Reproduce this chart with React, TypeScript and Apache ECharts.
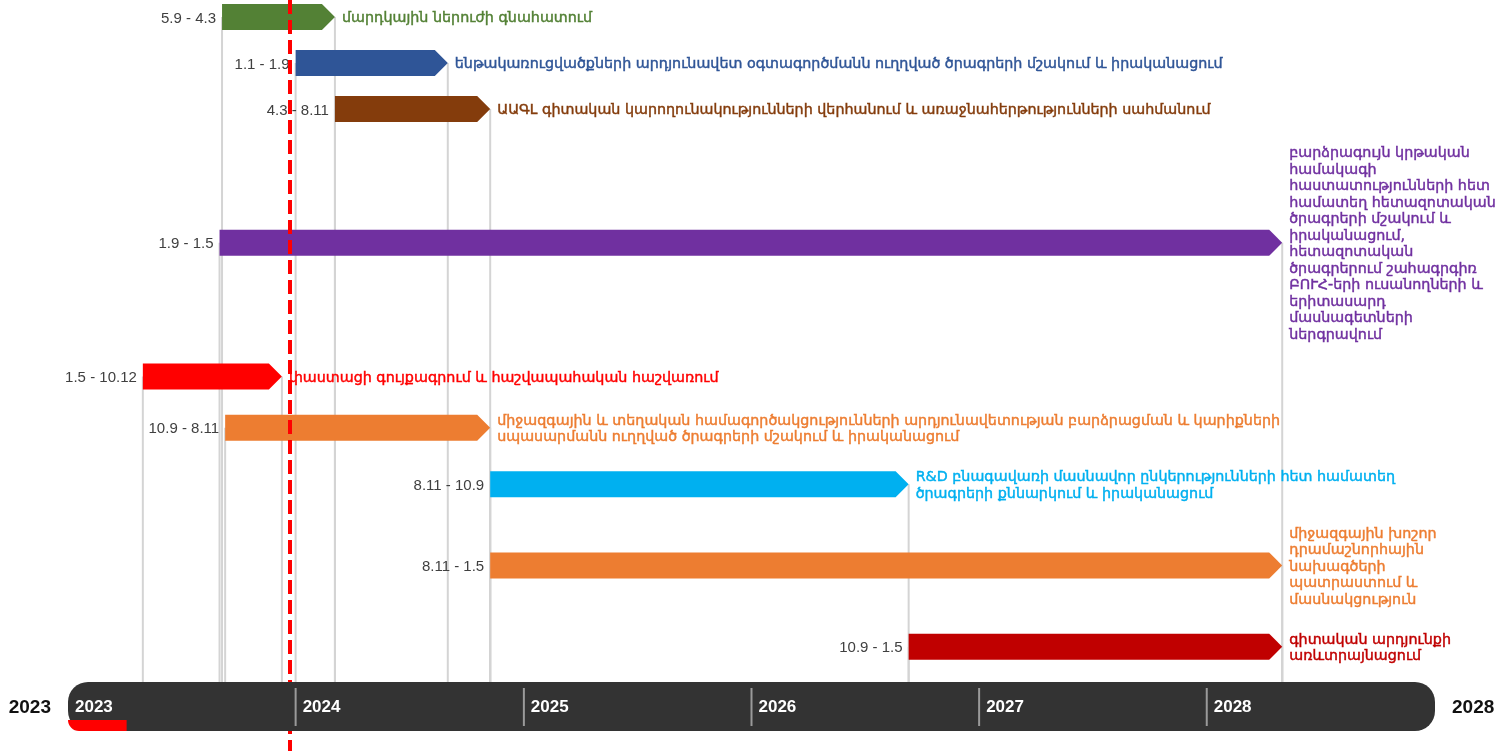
import React, { useEffect, useRef } from "react";
import * as echarts from "echarts";

const taskNames = [
  "մարդկային ներուժի գնահատում",
  "ենթակառուցվածքների արդյունավետ օգտագործմանն ուղղված ծրագրերի մշակում և իրականացում",
  "ԱԱԳԼ գիտական կարողունակությունների վերհանում և առաջնահերթությունների սահմանում",
  "բարձրագույն կրթական\nհամակագի\nհաստատությունների հետ\nհամատեղ հետազոտական\nծրագրերի մշակում և\nիրականացում,\nհետազոտական\nծրագրերում շահագրգիռ\nԲՈՒՀ-երի ուսանողների և\nերիտասարդ\nմասնագետների\nներգրավում",
  "փաստացի գույքագրում և հաշվապահական հաշվառում",
  "միջազգային և տեղական համագործակցությունների արդյունավետության բարձրացման և կարիքների\nսպասարմանն ուղղված ծրագրերի մշակում և իրականացում",
  "R&D բնագավառի մասնավոր ընկերությունների հետ համատեղ\nծրագրերի քննարկում և իրականացում",
  "միջազգային խոշոր\nդրամաշնորհային\nնախագծերի\nպատրաստում և\nմասնակցություն",
  "գիտական արդյունքի\nառևտրայնացում",
];
const taskStarts = ["2023-09-05", "2024-01-01", "2024-03-04", "2023-09-01", "2023-05-01", "2023-09-10", "2024-11-08", "2024-11-08", "2026-09-10"];
const taskEnds = ["2024-03-04", "2024-09-01", "2024-11-08", "2028-05-01", "2023-12-10", "2024-11-08", "2026-09-10", "2028-05-01", "2028-05-01"];
const rangeLabels = ["5.9 - 4.3", "1.1 - 1.9", "4.3 - 8.11", "1.9 - 1.5", "1.5 - 10.12", "10.9 - 8.11", "8.11 - 10.9", "8.11 - 1.5", "10.9 - 1.5"];
const taskColors = ["#538135", "#2F5597", "#843C0C", "#7030A0", "#FF0000", "#ED7D31", "#00B0F0", "#ED7D31", "#C00000"];
const yearTicks = ["2023", "2024", "2025", "2026", "2027", "2028"];
const timelineStart = "2023-01-01";
const timelineEnd = "2029-01-01";
const todayDate = "2023-12-23";
const progressEnd = "2023-04-05";

const ts = (d: string) => new Date(d + "T00:00:00").getTime();

// layout
const BAR_H = 26;
const LINE_H = 16.5;
const ROW_MIN_HALF = 23;
const ROW_PAD = 23.5;
const FIRST_CENTER = 17;
const TL_TOP = 682;
const TL_BOTTOM = 731;

function rowCenters(): number[] {
  const halves = taskNames.map((n) => Math.max(ROW_MIN_HALF, (n.split("\n").length * LINE_H + ROW_PAD) / 2));
  const out: number[] = [];
  let c = FIRST_CENTER;
  halves.forEach((h, i) => {
    if (i > 0) c += halves[i - 1] + h;
    out.push(c);
  });
  return out;
}

const ARM_FONT = "'DejaVu Sans', 'Noto Sans', sans-serif";
const NUM_FONT = "'Liberation Sans', Arial, sans-serif";
const YEAR_FONT = "'Liberation Sans Narrow', 'Liberation Sans', Arial, sans-serif";

export default function App() {
  const ref = useRef<HTMLDivElement>(null);
  useEffect(() => {
    if (!ref.current) return;
    const chart = echarts.init(ref.current, undefined, { renderer: "svg" });
    const centers = rowCenters();
    const taskData = taskStarts.map((s, i) => [ts(s), ts(taskEnds[i]), centers[i]]);

    chart.setOption({
      animation: false,
      grid: { left: 68, right: 60, top: 0, bottom: 0 },
      xAxis: { type: "time", min: ts(timelineStart), max: ts(timelineEnd), show: false },
      yAxis: { type: "value", inverse: true, min: 0, max: 751, show: false },
      series: [
        {
          type: "custom",
          name: "drops",
          z: 1,
          silent: true,
          data: taskData,
          encode: { x: [0, 1], y: 2 },
          renderItem: (params: any, api: any) => {
            const y = api.value(2);
            const s = api.coord([api.value(0), y]);
            const e = api.coord([api.value(1), y]);
            const bottom = api.coord([api.value(0), TL_TOP])[1];
            const st = { stroke: "#d4d4d4", lineWidth: 2 };
            return {
              type: "group",
              children: [
                { type: "line", shape: { x1: s[0], y1: s[1], x2: s[0], y2: bottom }, style: st },
                { type: "line", shape: { x1: e[0], y1: e[1], x2: e[0], y2: bottom }, style: st },
              ],
            };
          },
        },
        {
          type: "custom",
          name: "tasks",
          z: 3,
          silent: true,
          data: taskData,
          encode: { x: [0, 1], y: 2 },
          renderItem: (params: any, api: any) => {
            const i = params.dataIndex;
            const y = api.value(2);
            const s = api.coord([api.value(0), y]);
            const e = api.coord([api.value(1), y]);
            const h = BAR_H / 2;
            const head = 13;
            const color = taskColors[i];
            return {
              type: "group",
              children: [
                {
                  type: "polygon",
                  shape: {
                    points: [
                      [s[0], y - h],
                      [e[0] - head, y - h],
                      [e[0], y],
                      [e[0] - head, y + h],
                      [s[0], y + h],
                    ],
                  },
                  style: { fill: color },
                },
                {
                  type: "text",
                  style: {
                    x: s[0] - 6,
                    y: y,
                    text: rangeLabels[i],
                    align: "right",
                    verticalAlign: "middle",
                    fill: "#404040",
                    fontSize: 15,
                    fontFamily: NUM_FONT,
                  },
                },
                {
                  type: "text",
                  style: {
                    x: e[0] + 7,
                    y: y,
                    text: taskNames[i],
                    align: "left",
                    verticalAlign: "middle",
                    fill: color,
                    stroke: color,
                    lineWidth: 0.45,
                    fontSize: 14.3,
                    lineHeight: LINE_H,
                    fontFamily: ARM_FONT,
                  },
                },
              ],
            };
          },
        },
        {
          type: "custom",
          name: "timeline",
          z: 5,
          silent: true,
          data: [[ts(timelineStart), ts(timelineEnd), TL_TOP]],
          encode: { x: [0, 1], y: 2 },
          renderItem: (params: any, api: any) => {
            const a = api.coord([api.value(0), TL_TOP]);
            const b = api.coord([api.value(1), TL_BOTTOM]);
            const p = api.coord([ts(progressEnd), TL_BOTTOM]);
            const mid = (a[1] + b[1]) / 2;
            const children: any[] = [
              {
                type: "rect",
                shape: { x: a[0], y: a[1], width: b[0] - a[0], height: b[1] - a[1], r: 20 },
                style: { fill: "#333333" },
              },
              {
                type: "rect",
                shape: { x: a[0], y: b[1] - 11, width: p[0] - a[0], height: 11, r: [0, 0, 0, 11] },
                style: { fill: "#FF0000" },
              },
            ];
            yearTicks.forEach((yr, k) => {
              const x = api.coord([ts(yr + "-01-01"), mid])[0];
              if (k > 0) {
                children.push({
                  type: "line",
                  shape: { x1: x, y1: a[1] + 6, x2: x, y2: b[1] - 5 },
                  style: { stroke: "#9a9a9a", lineWidth: 2 },
                });
              }
              children.push({
                type: "text",
                style: {
                  x: x + 7,
                  y: mid,
                  text: yr,
                  align: "left",
                  verticalAlign: "middle",
                  fill: "#ffffff",
                  fontSize: 17,
                  fontWeight: "bold",
                  fontFamily: YEAR_FONT,
                },
              });
            });
            children.push({
              type: "text",
              style: {
                x: a[0] - 17,
                y: mid,
                text: yearTicks[0],
                align: "right",
                verticalAlign: "middle",
                fill: "#111111",
                fontSize: 19,
                fontWeight: "bold",
                fontFamily: YEAR_FONT,
              },
            });
            children.push({
              type: "text",
              style: {
                x: b[0] + 17,
                y: mid,
                text: yearTicks[yearTicks.length - 1],
                align: "left",
                verticalAlign: "middle",
                fill: "#111111",
                fontSize: 19,
                fontWeight: "bold",
                fontFamily: YEAR_FONT,
              },
            });
            return { type: "group", children };
          },
          markLine: {
            silent: true,
            symbol: "none",
            label: { show: false },
            lineStyle: { color: "#FF0000", type: [14, 6], width: 4 },
            data: [{ xAxis: ts(todayDate) }],
          },
        },
      ],
    });
    return () => chart.dispose();
  }, []);
  return <div ref={ref} style={{ position: "fixed", left: 0, top: 0, width: 1495, height: 751 }} />;
}
